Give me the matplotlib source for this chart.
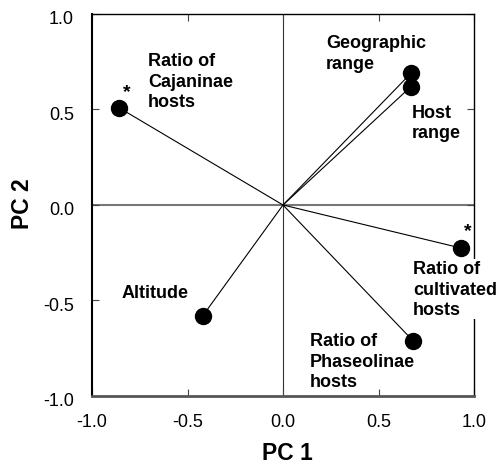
import matplotlib
matplotlib.use("Agg")
import matplotlib.pyplot as plt
import matplotlib.transforms as mtransforms

plt.rcParams['font.family'] = ['Liberation Sans', 'DejaVu Sans']

# PCA loadings
variables = ['Ratio of\nCajaninae\nhosts', 'Geographic\nrange', 'Host\nrange',
             'Ratio of\ncultivated\nhosts', 'Ratio of\nPhaseolinae\nhosts', 'Altitude']
pc1 = [-0.86, 0.67, 0.67, 0.93, 0.68, -0.42]
pc2 = [0.51, 0.69, 0.62, -0.225, -0.71, -0.58]
significant = [True, False, False, True, False, False]

ticks = [-1.0, -0.5, 0.0, 0.5, 1.0]
tick_labels = ['-1.0', '-0.5', '0.0', '0.5', '1.0']

# label anchor (left, top) for each variable, in data units
label_pos = [(-0.707, 0.80), (0.225, 0.895), (0.674, 0.53),
             (0.68, -0.288), (0.141, -0.665), (-0.843, -0.414)]
star_pos = {0: (-0.817, 0.595), 3: (0.97, -0.135)}

fig = plt.figure(figsize=(5.0, 4.64), dpi=100)
ax = fig.add_axes([0.184, 0.1444, 0.764, 0.8233])

ax.axhline(0, color='#777777', lw=1.5, zorder=1)
ax.axvline(0, color='#333333', lw=0.8, zorder=1)

for x, y in zip(pc1, pc2):
    ax.plot([0, x], [0, y], color='black', lw=0.8, zorder=2)
ax.plot(pc1, pc2, 'o', color='black', ms=11.5, zorder=4)

for i, name in enumerate(variables):
    lx, ly = label_pos[i]
    txt = ax.text(lx, ly, name, ha='left', va='top', fontsize=13,
                  fontweight='bold', linespacing=1.27, clip_on=False, zorder=5)
    if i == 3:
        txt.set_bbox(dict(facecolor='white', edgecolor='none', pad=1))
    if significant[i]:
        sx, sy = star_pos[i]
        ax.text(sx, sy, '*', ha='center', va='center', fontsize=14,
                fontweight='bold', zorder=5)

ax.set_xlim(-1, 1)
ax.set_ylim(-1, 1)
ax.set_xticks(ticks)
ax.set_xticklabels(tick_labels)
ax.set_yticks(ticks)
ax.set_yticklabels(tick_labels)
ax.tick_params(direction='in', length=5, width=0.8, top=True, right=True,
               labelsize=13, color='#444444')
ax.tick_params(axis='x', pad=12)
ax.tick_params(axis='y', pad=13)

# y tick labels sit a touch below their ticks in the original
shift = mtransforms.ScaledTranslation(0, -2 / 72, fig.dpi_scale_trans)
for lab in ax.get_yticklabels():
    lab.set_transform(lab.get_transform() + shift)

for side in ['top', 'right']:
    ax.spines[side].set_linewidth(1.0)
ax.spines['left'].set_linewidth(1.5)
ax.spines['bottom'].set_linewidth(2.0)
ax.spines['bottom'].set_color('#555555')

fig.text(0.574, 0.022, 'PC 1', ha='center', va='center', fontsize=16.5, fontweight='bold')
fig.text(0.045, 0.56, 'PC 2', ha='center', va='center', fontsize=16.5,
         fontweight='bold', rotation=90)

fig.savefig('out.png', dpi=100)
